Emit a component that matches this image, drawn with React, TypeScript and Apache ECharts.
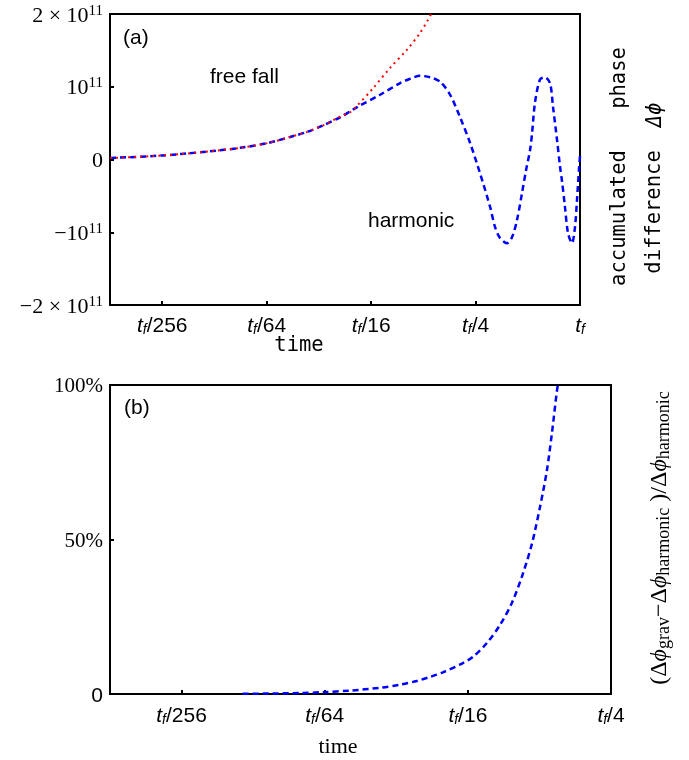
import React, { useEffect, useRef } from "react";
import * as echarts from "echarts";

// ---- Panel (a): accumulated phase difference, in units of 10^11 ----
// time axis given as log base 4 of t / t_f
const logTimeHarmonic = [
  -4.498, -4.0, -3.636, -3.254, -2.995, -2.775, -2.612, -2.459, -2.297, -2.134, -1.914,
  -1.722, -1.627, -1.531, -1.435, -1.34, -1.244, -1.148, -1.053, -0.957, -0.861,
  -0.813, -0.766, -0.699, -0.651, -0.603, -0.555, -0.517, -0.478, -0.459, -0.431,
  -0.383, -0.335, -0.287, -0.258, -0.22, -0.191, -0.172, -0.144, -0.115, -0.077,
  -0.048, -0.029, -0.01, 0,
];
const harmonicPhase = [
  0.02, 0.055, 0.1, 0.16, 0.225, 0.31, 0.38, 0.47, 0.58, 0.72, 0.89,
  1.05, 1.11, 1.15, 1.13, 1.07, 0.89, 0.58, 0.23, -0.19, -0.65,
  -0.93, -1.08, -1.15, -1.07, -0.83, -0.46, -0.15, 0.13, 0.36, 0.78,
  1.1, 1.13, 1.05, 0.72, 0.27, -0.1, -0.3, -0.65, -1.01, -1.15,
  -0.93, -0.56, -0.14, 0.05,
];
const logTimeFreeFall = [
  -4.498, -4.0, -3.636, -3.254, -2.995, -2.775, -2.612, -2.459, -2.297, -2.202, -2.134,
  -1.981, -1.818, -1.656, -1.531, -1.455, -1.426,
];
const freeFallPhase = [
  0.02, 0.055, 0.1, 0.16, 0.225, 0.31, 0.38, 0.47, 0.59, 0.65, 0.74,
  0.98, 1.26, 1.51, 1.74, 1.92, 2.0,
];
const yTicksA = [-2, -1, 0, 1, 2];
const xTicksA = [-4, -3, -2, -1, 0];

// ---- Panel (b): relative difference, percent ----
const logTimeRatio = [
  -3.573, -3.385, -3.175, -3.007, -2.825, -2.615, -2.476, -2.357, -2.266, -2.175,
  -2.035, -1.965, -1.867, -1.776, -1.692, -1.615, -1.552, -1.497, -1.448, -1.413,
  -1.378, -1.364,
];
const ratioPercent = [
  0.05, 0.15, 0.3, 0.6, 1.1, 2.0, 3.0, 4.2, 5.5, 7.0,
  10.0, 12, 16.5, 22.3, 29.5, 39, 48.7, 60.3, 72.3, 84.3,
  98, 102,
];
const yTicksB = [0, 50, 100];
const xTicksB = [-4, -3, -2, -1];

const SANS = "Liberation Sans";
const SERIF = "Liberation Serif";
const MONO = "DejaVu Sans Mono";

const zip = (xs: number[], ys: number[]) => xs.map((x, i) => [x, ys[i]]);

const timeRich = {
  t: { fontFamily: SANS, fontStyle: "italic", fontSize: 21, lineHeight: 24, color: "#000" },
  f: { fontFamily: SANS, fontStyle: "italic", fontSize: 14, lineHeight: 14, verticalAlign: "bottom", color: "#000" },
  n: { fontFamily: SANS, fontSize: 21, lineHeight: 24, color: "#000" },
};
const timeFormatter = (v: number) => {
  if (Math.abs(v) < 1e-9) return "{t|t}{f|f}";
  return "{t|t}{f|f}{n|/" + Math.round(Math.pow(4, -v)) + "}";
};

const phaseRich = {
  n: { fontFamily: SERIF, fontSize: 22, lineHeight: 24, color: "#000" },
  s: { fontFamily: SERIF, fontSize: 15, lineHeight: 15, verticalAlign: "top", color: "#000" },
};
const phaseFormatter = (v: number) => {
  if (v === 0) return "{n|0}";
  const sign = v < 0 ? "\u2212" : "";
  const m = Math.abs(v);
  return "{n|" + sign + (m === 1 ? "" : m + " \u00d7 ") + "10}{s|11}";
};

const pctRich = {
  n: { fontFamily: SERIF, fontSize: 21, lineHeight: 22, color: "#000" },
  z: { fontFamily: SANS, fontSize: 21, lineHeight: 22, color: "#000" },
};
const pctFormatter = (v: number) => (v === 0 ? "{z|0}" : "{n|" + v + "%}");

const tickStyle = { inside: true, length: 4, lineStyle: { color: "#000", width: 2 } };
const hiddenLine = { show: false, onZero: false };

export default function App() {
  const ref = useRef<HTMLDivElement>(null);
  useEffect(() => {
    if (!ref.current) return;
    const chart = echarts.init(ref.current, null, { renderer: "svg" });
    const blueDash = { color: "#0000ff", width: 2.5, type: [6, 4] as number[] };
    chart.setOption({
      animation: false,
      grid: [
        { left: 110, top: 14, right: 109, bottom: 455, show: true, borderColor: "#000", borderWidth: 2 },
        { left: 110, top: 385, right: 78, bottom: 66, show: true, borderColor: "#000", borderWidth: 2 },
      ],
      xAxis: [
        {
          type: "value", gridIndex: 0, min: -4.5, max: 0, position: "bottom",
          axisLine: hiddenLine, splitLine: { show: false },
          axisTick: { ...tickStyle, customValues: xTicksA },
          axisLabel: { customValues: xTicksA, formatter: timeFormatter, rich: timeRich, margin: 7 },
        },
        {
          type: "value", gridIndex: 1, min: -4.5, max: -1, position: "bottom",
          axisLine: hiddenLine, splitLine: { show: false },
          axisTick: { ...tickStyle, customValues: xTicksB },
          axisLabel: { customValues: xTicksB, formatter: timeFormatter, rich: timeRich, margin: 8 },
        },
      ],
      yAxis: [
        {
          type: "value", gridIndex: 0, min: -2, max: 2, position: "left",
          axisLine: hiddenLine, splitLine: { show: false },
          axisTick: { ...tickStyle, customValues: yTicksA },
          axisLabel: { customValues: yTicksA, formatter: phaseFormatter, rich: phaseRich, margin: 7 },
        },
        {
          type: "value", gridIndex: 1, min: 0, max: 100, position: "left",
          axisLine: hiddenLine, splitLine: { show: false },
          axisTick: { ...tickStyle, customValues: yTicksB },
          axisLabel: { customValues: yTicksB, formatter: pctFormatter, rich: pctRich, margin: 7 },
        },
      ],
      series: [
        {
          type: "line", xAxisIndex: 0, yAxisIndex: 0, data: zip(logTimeHarmonic, harmonicPhase),
          symbol: "none", smooth: 0.3, lineStyle: blueDash, z: 3,
        },
        {
          type: "line", xAxisIndex: 0, yAxisIndex: 0, data: zip(logTimeFreeFall, freeFallPhase),
          symbol: "none", smooth: 0.3, lineStyle: { color: "#ff0000", width: 2, type: [2, 4] }, z: 4,
        },
        {
          type: "line", xAxisIndex: 1, yAxisIndex: 1, data: zip(logTimeRatio, ratioPercent),
          symbol: "none", smooth: 0.3, lineStyle: blueDash, z: 3,
        },
      ],
      graphic: [
        { type: "text", left: 123, top: 26, style: { text: "(a)", font: `21px "${SANS}"`, fill: "#000" } },
        { type: "text", left: 210, top: 65, style: { text: "free fall", font: `21px "${SANS}"`, fill: "#000" } },
        { type: "text", left: 368, top: 209, style: { text: "harmonic", font: `21px "${SANS}"`, fill: "#000" } },
        { type: "text", left: 124, top: 396, style: { text: "(b)", font: `21px "${SANS}"`, fill: "#000" } },
        {
          type: "text", x: 299, y: 344,
          style: { text: "time", font: `20.5px "${MONO}"`, fill: "#000", align: "center", verticalAlign: "middle" },
        },
        {
          type: "text", x: 338, y: 745,
          style: { text: "time", font: `22px "${SERIF}"`, fill: "#000", align: "center", verticalAlign: "middle" },
        },
        {
          type: "text", x: 618, y: 218, rotation: Math.PI / 2,
          style: { text: "accumulated", font: `20.5px "${MONO}"`, fill: "#000", align: "center", verticalAlign: "middle" },
        },
        {
          type: "text", x: 618, y: 78, rotation: Math.PI / 2,
          style: { text: "phase", font: `20.5px "${MONO}"`, fill: "#000", align: "center", verticalAlign: "middle" },
        },
        {
          type: "text", x: 653, y: 212, rotation: Math.PI / 2,
          style: { text: "difference", font: `20.5px "${MONO}"`, fill: "#000", align: "center", verticalAlign: "middle" },
        },
        {
          type: "text", x: 654, y: 115, rotation: Math.PI / 2,
          style: { text: "\u0394\u03d5", font: `italic 20.5px "${MONO}"`, fill: "#000", align: "center", verticalAlign: "middle" },
        },
        {
          type: "text", x: 658, y: 538, rotation: Math.PI / 2,
          style: {
            text: "{p|(\u0394}{i|\u03d5}{s|grav}{p|\u2212\u0394}{i|\u03d5}{s|harmonic}{p| )/\u0394}{i|\u03d5}{s|harmonic}",
            align: "center", verticalAlign: "middle", fill: "#000",
            rich: {
              p: { fontFamily: SERIF, fontSize: 24, lineHeight: 28, fill: "#000" },
              i: { fontFamily: SERIF, fontStyle: "italic", fontSize: 24, lineHeight: 28, fill: "#000" },
              s: { fontFamily: SERIF, fontSize: 18, lineHeight: 18, verticalAlign: "bottom", fill: "#000" },
            },
          },
        },
      ],
    });
    return () => chart.dispose();
  }, []);
  return <div ref={ref} style={{ position: "fixed", left: 0, top: 0, width: 689, height: 760 }} />;
}
